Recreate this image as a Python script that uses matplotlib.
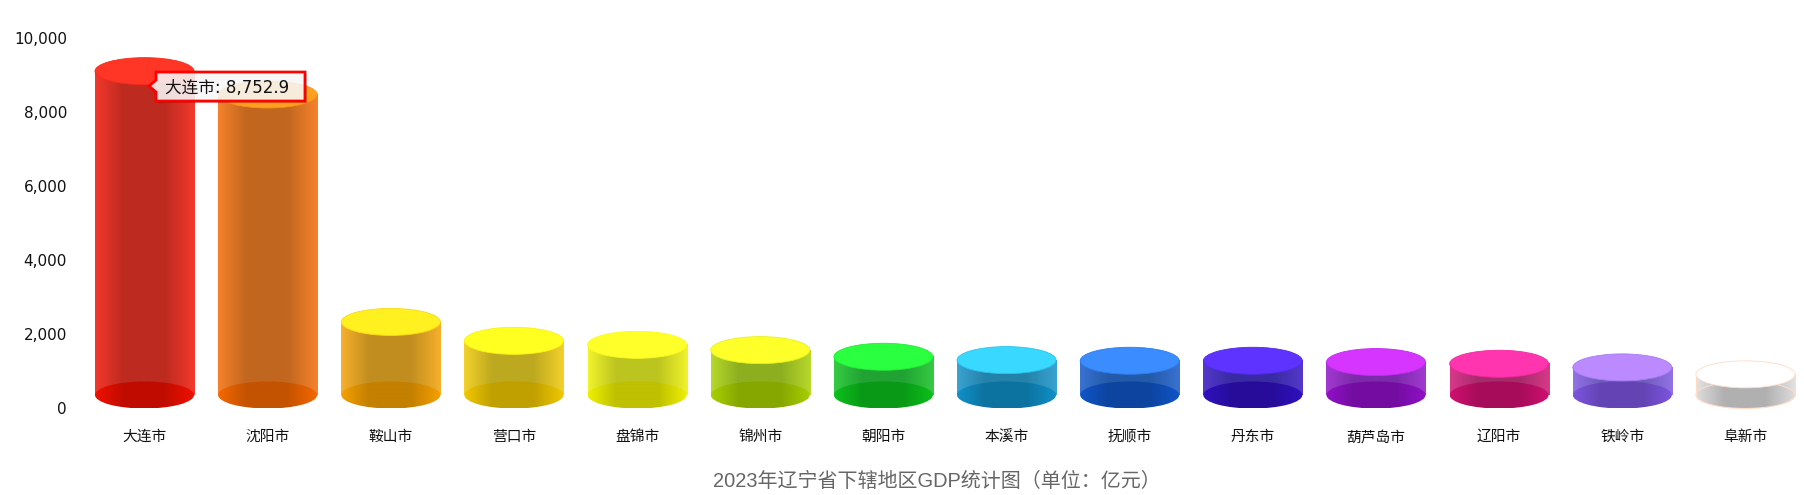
import matplotlib
matplotlib.use("Agg")
import matplotlib.pyplot as plt
from matplotlib.patches import Ellipse, Polygon
from matplotlib.colors import to_rgb
from matplotlib.ticker import FuncFormatter
from matplotlib.transforms import IdentityTransform
import numpy as np

# Data
cities = ["大连市", "沈阳市", "鞍山市", "营口市", "盘锦市", "锦州市", "朝阳市",
          "本溪市", "抚顺市", "丹东市", "葫芦岛市", "辽阳市", "铁岭市", "阜新市"]
gdp = [8752.9, 8122, 1975, 1464, 1356, 1213, 1033, 943, 925, 925, 890, 844, 746, 558]
y_ticks = [0, 2000, 4000, 6000, 8000, 10000]
title = "2023年辽宁省下辖地区GDP统计图（单位：亿元）"
tip_text = "大连市: 8,752.9"

# Colours
top_colors = ["#ff3526", "#ffa020", "#fff020", "#ffff20", "#ffff2a", "#ffff2a", "#2aff40",
              "#38d8ff", "#3a8cff", "#5f33ff", "#d535ff", "#ff35b0", "#bb8aff", "#ffffff"]
edge_colors = ["#f01000", "#f56800", "#f5a000", "#f0c800", "#eef000", "#a8d000", "#0cc01c",
               "#1090c8", "#1055c8", "#3010c0", "#9010c8", "#d01070", "#7c55e0", "#dddddd"]

W, H = 1804, 495
half_w = 0.402      # half of the cylinder width, in categories
half_h = 365        # half of the ellipse height, in y units


def mix(a, b, t):
    return tuple(np.array(a) * (1 - t) + np.array(b) * t)


def gradient(edge, center):
    # edge colour at the sides, dark band in the middle
    t = np.linspace(0, 1, 200)
    k = np.interp(t, [0, 0.28, 0.7, 1], [0, 1, 1, 0])[:, None]
    return (np.array(edge) * (1 - k) + np.array(center) * k)[None, :, :]


fig = plt.figure(figsize=(W / 100, H / 100), dpi=100)
left, right, top, bottom = 82.9, 1800, 38.5, 408.5
ax = fig.add_axes([left / W, 1 - bottom / H, (right - left) / W, (bottom - top) / H])

for i, value in enumerate(gdp):
    edge = to_rgb(edge_colors[i])
    center = mix(edge, (0, 0, 0), 0.2)
    side_edge = mix(edge, (1, 1, 1), 0.17)
    side_center = mix(center, (0.69, 0.88, 0.88), 0.14)
    base_y = half_h
    top_y = value + half_h
    x0, x1 = i - half_w, i + half_w
    last = i == len(gdp) - 1

    # side
    ax.imshow(gradient(side_edge, side_center), extent=[x0, x1, base_y, top_y], aspect="auto",
              zorder=2, interpolation="bilinear")

    # bottom ellipse
    bottom_shape = Ellipse((i, base_y), 2 * half_w, 2 * half_h, fc="none", ec="none", zorder=3)
    ax.add_patch(bottom_shape)
    im = ax.imshow(gradient(edge, center), extent=[x0, x1, base_y - half_h, base_y + half_h],
                   aspect="auto", zorder=3, interpolation="bilinear")
    im.set_clip_path(bottom_shape)

    # top ellipse
    top_edge = "#ffdcc8" if last else mix(to_rgb(top_colors[i]), edge, 0.3)
    ax.add_patch(Ellipse((i, top_y), 2 * half_w, 2 * half_h, fc=top_colors[i], ec=top_edge,
                         lw=0.6, zorder=4))
    if last:
        ax.add_patch(Ellipse((i, base_y), 2 * half_w, 2 * half_h, fc="none", ec="#ffdcc8",
                             lw=0.8, zorder=3.5))
        ax.plot([x0, x0], [base_y, top_y], color="#ffdcc8", lw=0.8, zorder=3.5)
        ax.plot([x1, x1], [base_y, top_y], color="#ffdcc8", lw=0.8, zorder=3.5)

ax.set_xlim(-(144.5 - left) / 123.15, (right - 144.5) / 123.15)
ax.set_ylim(0, 10000)
ax.set_yticks(y_ticks)
ax.yaxis.set_major_formatter(FuncFormatter(lambda v, p: f"{int(v):,}"))
ax.tick_params(axis="y", length=0, pad=11.5, labelsize=11, labelcolor="#111111")
ax.set_xticks(range(len(cities)))
ax.set_xticklabels(cities, family=["Noto Sans CJK SC", "DejaVu Sans"], fontsize=10.6, color="#111111")
ax.tick_params(axis="x", length=0, pad=15.5)
for s in ax.spines.values():
    s.set_visible(False)

fig.text(937 / W, 1 - 481 / H, title, ha="center", va="center", fontsize=14.4, color="#666666",
         family=["Liberation Sans", "Noto Sans CJK SC"])

# Tooltip, offsets are pixels from the point of the first bar
pixels = IdentityTransform()
tip_x, tip_y = ax.transData.transform((4.5 / 123.15, gdp[0]))
tip_y -= 1.4
box = np.array([(0, 0), (7, -6), (7, -15), (156, -15), (156, 14), (7, 14), (7, 6)], dtype=float)
box += (tip_x, tip_y)
fig.add_artist(Polygon(box + (2, -2), closed=True, fc="#000000", alpha=0.2, ec="none",
                       transform=pixels, zorder=9))
fig.add_artist(Polygon(box, closed=True, fc=(1, 1, 1, 0.85), ec="#ff0000", lw=2, transform=pixels,
                       zorder=10, joinstyle="miter"))
fig.text(tip_x + 16, tip_y - 2, tip_text, ha="left", va="center", fontsize=12, color="#111111",
         family=["DejaVu Sans", "Noto Sans CJK SC"], zorder=11, transform=pixels)

fig.savefig("out.png", dpi=100, facecolor="white")
